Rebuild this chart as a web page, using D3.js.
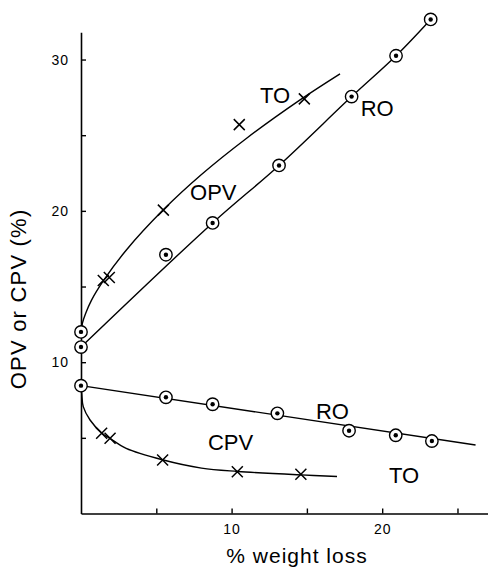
<!DOCTYPE html>
<html>
<head>
<meta charset="utf-8">
<script src="https://cdn.jsdelivr.net/npm/d3@7"></script>
<style>
  html, body { margin: 0; padding: 0; background: #fff; }
  svg { display: block; }
  text { font-family: "Liberation Sans", Arial, Helvetica, sans-serif; fill: #000; }
</style>
</head>
<body>
<svg id="chart" width="488" height="571"></svg>
<script>
// Axis ticks
const xTicks = [5, 10, 15, 20, 25];
const xTickLabels = [10, 20];
const yTicks = [5, 10, 15, 20, 25, 30];
const yTickLabels = [10, 20, 30];

// Untreated starting values (0 % weight loss)
const opvStart = [12.0, 11.0];
const cpvStart = [8.45];

// OPV measurements
const opvRoX = [5.64, 8.74, 13.15, 17.97, 20.92, 23.22];
const opvRoY = [17.1, 19.2, 23.0, 27.55, 30.25, 32.65];
const opvToX = [1.48, 1.88, 5.47, 10.51, 14.83];
const opvToY = [15.4, 15.6, 20.05, 25.7, 27.4];

// CPV measurements
const cpvRoX = [5.64, 8.74, 13.04, 17.8, 20.9, 23.3];
const cpvRoY = [7.68, 7.22, 6.62, 5.47, 5.17, 4.79];
const cpvToX = [1.37, 1.93, 5.42, 10.38, 14.6];
const cpvToY = [5.3, 4.97, 3.54, 2.76, 2.59];

// Fitted curves
const opvToFitX = [0, 0.1, 0.3, 0.7, 1.5, 3.0, 5.5, 8.0, 11.0, 14.5, 17.2];
const opvToFitY = [12.0, 12.6, 13.2, 14.1, 15.4, 17.4, 20.1, 22.4, 24.8, 27.3, 29.05];
const opvRoFitX = [0, 8.74, 13.15, 17.97, 20.92, 23.22];
const opvRoFitY = [11.0, 19.2, 23.0, 27.55, 30.25, 32.65];
const cpvRoFitX = [0, 26.2];
const cpvRoFitY = [8.45, 4.53];
const cpvToFitX = [0, 0.05, 0.15, 0.6, 1.4, 1.95, 3.0, 5.4, 8.0, 10.4, 14.6, 17.0];
const cpvToFitY = [8.45, 7.9, 7.06, 6.18, 5.3, 4.95, 4.3, 3.55, 3.0, 2.78, 2.55, 2.45];

// Curve labels (data coordinates of text start / baseline)
const labelText = ["TO", "RO", "OPV", "RO", "CPV", "TO"];
const labelX = [11.89, 18.57, 7.24, 15.6, 8.43, 20.45];
const labelY = [27.13, 26.27, 20.72, 6.25, 4.2, 2.02];

const svg = d3.select("#chart");

const x = d3.scaleLinear().domain([0, 27]).range([81, 487.6]);
const y = d3.scaleLinear().domain([0, 31.8]).range([513.5, 32.3]);

const zip = (xs, ys) => xs.map((v, i) => [v, ys[i]]);

// Axes
const xAxis = d3.axisBottom(x)
  .tickValues(xTicks)
  .tickSizeInner(-5)
  .tickSizeOuter(0)
  .tickPadding(11)
  .tickFormat(d => xTickLabels.includes(d) ? d : "");
const yAxis = d3.axisLeft(y)
  .tickValues(yTicks)
  .tickSizeInner(-5)
  .tickSizeOuter(0)
  .tickPadding(12)
  .tickFormat(d => yTickLabels.includes(d) ? d : "");

const gx = svg.append("g").attr("transform", `translate(0,${y(0)})`).call(xAxis);
const gy = svg.append("g").attr("transform", `translate(${x(0)},0)`).call(yAxis);
[gx, gy].forEach(g => {
  g.select(".domain").attr("stroke", "#000").attr("stroke-width", 1.6);
  g.selectAll(".tick line").attr("stroke", "#000").attr("stroke-width", 1.4);
  g.selectAll(".tick text").attr("font-size", 14).attr("fill", "#000")
    .attr("font-family", "Liberation Sans, Arial, sans-serif").attr("letter-spacing", 1);
});

// Axis titles
svg.append("text")
  .attr("transform", `translate(26,${(y(0) + y(31.8)) / 2 + 26}) rotate(-90)`)
  .attr("text-anchor", "middle")
  .attr("font-size", 22)
  .attr("letter-spacing", 1.2)
  .text("OPV or CPV (%)");

svg.append("text")
  .attr("x", 297)
  .attr("y", 563)
  .attr("text-anchor", "middle")
  .attr("font-size", 21)
  .attr("letter-spacing", 1)
  .text("% weight loss");

// Fitted curves
const line = d3.line().x(d => x(d[0])).y(d => y(d[1])).curve(d3.curveCatmullRom.alpha(0.5));
const fits = [
  zip(opvToFitX, opvToFitY),
  zip(opvRoFitX, opvRoFitY),
  zip(cpvRoFitX, cpvRoFitY),
  zip(cpvToFitX, cpvToFitY)
];
svg.append("g").selectAll("path").data(fits).join("path")
  .attr("d", line)
  .attr("fill", "none")
  .attr("stroke", "#000")
  .attr("stroke-width", 1.4);

// Circled-dot markers (RO and starting values)
const circlePts = [
  ...opvStart.map(v => [0, v]),
  ...cpvStart.map(v => [0, v]),
  ...zip(opvRoX, opvRoY),
  ...zip(cpvRoX, cpvRoY)
];
const cg = svg.append("g").selectAll("g").data(circlePts).join("g")
  .attr("transform", d => `translate(${x(d[0])},${y(d[1])})`);
cg.append("circle").attr("r", 6.2).attr("fill", "#fff").attr("stroke", "#000").attr("stroke-width", 1.4);
cg.append("circle").attr("r", 2.2).attr("fill", "#000");

// Cross markers (TO)
const crossPts = [...zip(opvToX, opvToY), ...zip(cpvToX, cpvToY)];
const s = 5.5;
svg.append("g").selectAll("path").data(crossPts).join("path")
  .attr("transform", d => `translate(${x(d[0])},${y(d[1])})`)
  .attr("d", `M${-s},${-s}L${s},${s}M${-s},${s}L${s},${-s}`)
  .attr("stroke", "#000")
  .attr("stroke-width", 1.5)
  .attr("fill", "none");

// Curve labels
svg.append("g").selectAll("text").data(labelText).join("text")
  .attr("x", (d, i) => x(labelX[i]))
  .attr("y", (d, i) => y(labelY[i]))
  .attr("font-size", 22)
  .text(d => d);
</script>
</body>
</html>
